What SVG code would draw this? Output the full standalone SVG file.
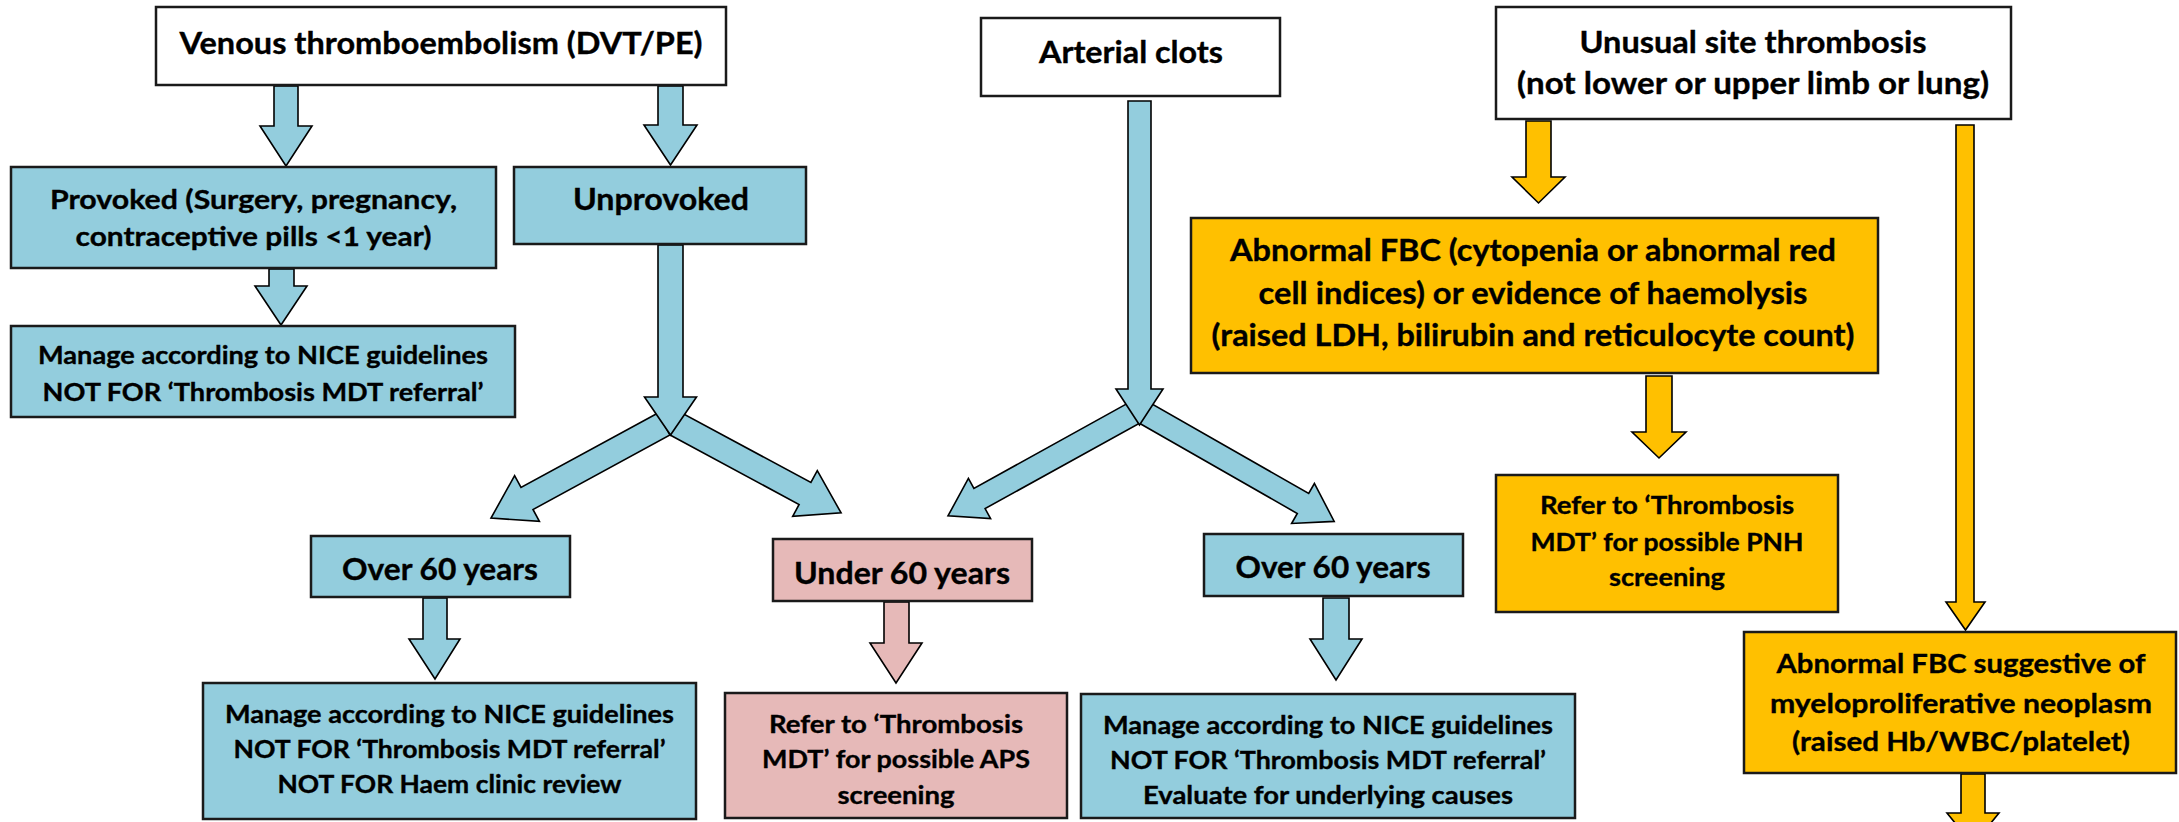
<svg xmlns="http://www.w3.org/2000/svg" width="2179" height="822" viewBox="0 0 2179 822">
<style>
text{font-family:Lato,"Liberation Sans",sans-serif;font-weight:bold;fill:#000;stroke:#000;stroke-width:0.35;text-anchor:middle}
.t1{font-size:30px}
.t2{font-size:27.5px}
.t3{font-size:24px}
.bw{fill:#fff;stroke:#1a1a1a;stroke-width:2.5}
.bb{fill:#93CDDD;stroke:#1a1a1a;stroke-width:2.5}
.bo{fill:#FFC000;stroke:#1a1a1a;stroke-width:2.5}
.bp{fill:#E6B9B8;stroke:#1a1a1a;stroke-width:2.5}
.ab{fill:#93CDDD;stroke:#000;stroke-width:1.6}
.ao{fill:#FFC000;stroke:#000;stroke-width:1.6}
.ap{fill:#E6B9B8;stroke:#000;stroke-width:1.6}
</style>
<rect width="2179" height="822" fill="#fff"/>
<g id="connectors">
<polygon class="ab" points="274,86 298,86 298,126 312,126 286,166 260,126 274,126"/>
<polygon class="ab" points="658,86 683,86 683,125 697,125 670.5,165 644,125 658,125"/>
<polygon class="ab" points="269,269 294,269 294,286 307,286 281,325 255,286 269,286"/>
<polygon class="ab" points="658,413 521,487.5 514.6,475.7 491,518.1 539.4,521.3 533,509.5 670,435"/>
<polygon class="ab" points="670.1,435 799.1,504.5 792.7,516.4 841.1,512.9 817.3,470.6 810.9,482.5 681.9,413"/>
<polygon class="ab" points="658,245 683,245 683,397 696.5,397 670.5,435 644.5,397 658,397"/>
<polygon class="ab" points="1128.4,402.9 973.9,488.4 968.4,478.4 948,515.9 990.6,518.6 985.1,508.6 1139.6,423.1"/>
<polygon class="ab" points="1139,423 1297.3,513.5 1291.6,523.5 1334.2,521.4 1314.4,483.5 1308.7,493.5 1150.4,403"/>
<polygon class="ab" points="1128,101 1151,101 1151,389 1163,389 1139.5,425 1116,389 1128,389"/>
<polygon class="ab" points="423,598 447,598 447,639 460,639 435,679 409,639 423,639"/>
<polygon class="ap" points="884,602 909,602 909,643 922,643 896,683 870,643 884,643"/>
<polygon class="ab" points="1323,598 1349,598 1349,639 1362,639 1336,680 1310,639 1323,639"/>
<polygon class="ao" points="1526,121 1551,121 1551,177 1565,177 1538.5,203 1512,177 1526,177"/>
<polygon class="ao" points="1646,376 1672,376 1672,432 1686,432 1659,458 1632,432 1646,432"/>
<polygon class="ao" points="1956,125 1974,125 1974,602 1985,602 1965.5,630 1946,602 1956,602"/>
<polygon class="ao" points="1961,774 1985,774 1985,813 1999,813 1973,845 1947,813 1961,813"/>
</g>
<g id="vte">
<rect class="bw" x="156" y="7" width="570" height="78"/>
<text class="t1" x="441" y="54" textLength="523" lengthAdjust="spacingAndGlyphs">Venous thromboembolism (DVT/PE)</text>
</g>
<g id="arterial">
<rect class="bw" x="981" y="18" width="299" height="78"/>
<text class="t1" x="1131" y="63" textLength="184" lengthAdjust="spacingAndGlyphs">Arterial clots</text>
</g>
<g id="unusual">
<rect class="bw" x="1496" y="7" width="515" height="112"/>
<text class="t1" x="1753" y="53" textLength="347" lengthAdjust="spacingAndGlyphs">Unusual site thrombosis</text>
<text class="t1" x="1753" y="94" textLength="472" lengthAdjust="spacingAndGlyphs">(not lower or upper limb or lung)</text>
</g>
<g id="provoked">
<rect class="bb" x="11" y="167" width="485" height="101"/>
<text class="t2" x="253.5" y="209" textLength="407" lengthAdjust="spacingAndGlyphs">Provoked (Surgery, pregnancy,</text>
<text class="t2" x="253.5" y="246" textLength="356" lengthAdjust="spacingAndGlyphs">contraceptive pills &lt;1 year)</text>
</g>
<g id="unprovoked">
<rect class="bb" x="514" y="167" width="292" height="77"/>
<text class="t1" x="661" y="210" textLength="176" lengthAdjust="spacingAndGlyphs">Unprovoked</text>
</g>
<g id="manage1">
<rect class="bb" x="11" y="326" width="504" height="91"/>
<text class="t3" x="263" y="364" textLength="450" lengthAdjust="spacingAndGlyphs">Manage according to NICE guidelines</text>
<text class="t3" x="263" y="401" textLength="441" lengthAdjust="spacingAndGlyphs">NOT FOR ‘Thrombosis MDT referral’</text>
</g>
<g id="fbc">
<rect class="bo" x="1191" y="218" width="687" height="155"/>
<text class="t1" x="1533" y="261" textLength="606" lengthAdjust="spacingAndGlyphs">Abnormal FBC (cytopenia or abnormal red</text>
<text class="t1" x="1533" y="304" textLength="549" lengthAdjust="spacingAndGlyphs">cell indices) or evidence of haemolysis</text>
<text class="t1" x="1533" y="346" textLength="643" lengthAdjust="spacingAndGlyphs">(raised LDH, bilirubin and reticulocyte count)</text>
</g>
<g id="pnh">
<rect class="bo" x="1496" y="475" width="342" height="137"/>
<text class="t3" x="1667" y="514" textLength="254" lengthAdjust="spacingAndGlyphs">Refer to ‘Thrombosis</text>
<text class="t3" x="1667" y="551" textLength="273" lengthAdjust="spacingAndGlyphs">MDT’ for possible PNH</text>
<text class="t3" x="1667" y="586" textLength="116" lengthAdjust="spacingAndGlyphs">screening</text>
</g>
<g id="over60left">
<rect class="bb" x="311" y="536" width="259" height="61"/>
<text class="t1" x="440" y="580" textLength="196" lengthAdjust="spacingAndGlyphs">Over 60 years</text>
</g>
<g id="under60">
<rect class="bp" x="773" y="539" width="259" height="62"/>
<text class="t1" x="902" y="584" textLength="216" lengthAdjust="spacingAndGlyphs">Under 60 years</text>
</g>
<g id="over60right">
<rect class="bb" x="1204" y="534" width="259" height="62"/>
<text class="t1" x="1333" y="578" textLength="195" lengthAdjust="spacingAndGlyphs">Over 60 years</text>
</g>
<g id="manage2">
<rect class="bb" x="203" y="683" width="493" height="136"/>
<text class="t3" x="449.5" y="723" textLength="449" lengthAdjust="spacingAndGlyphs">Manage according to NICE guidelines</text>
<text class="t3" x="449.5" y="758" textLength="432" lengthAdjust="spacingAndGlyphs">NOT FOR ‘Thrombosis MDT referral’</text>
<text class="t3" x="449.5" y="793" textLength="344" lengthAdjust="spacingAndGlyphs">NOT FOR Haem clinic review</text>
</g>
<g id="aps">
<rect class="bp" x="725" y="693" width="342" height="125"/>
<text class="t3" x="896" y="733" textLength="254" lengthAdjust="spacingAndGlyphs">Refer to ‘Thrombosis</text>
<text class="t3" x="896" y="768" textLength="268" lengthAdjust="spacingAndGlyphs">MDT’ for possible APS</text>
<text class="t3" x="896" y="804" textLength="117" lengthAdjust="spacingAndGlyphs">screening</text>
</g>
<g id="manage3">
<rect class="bb" x="1081" y="694" width="494" height="124"/>
<text class="t3" x="1328" y="734" textLength="450" lengthAdjust="spacingAndGlyphs">Manage according to NICE guidelines</text>
<text class="t3" x="1328" y="769" textLength="436" lengthAdjust="spacingAndGlyphs">NOT FOR ‘Thrombosis MDT referral’</text>
<text class="t3" x="1328" y="804" textLength="370" lengthAdjust="spacingAndGlyphs">Evaluate for underlying causes</text>
</g>
<g id="mpn">
<rect class="bo" x="1744" y="632" width="432" height="141"/>
<text class="t2" x="1961" y="673" textLength="369" lengthAdjust="spacingAndGlyphs">Abnormal FBC suggestive of</text>
<text class="t2" x="1961" y="713" textLength="382" lengthAdjust="spacingAndGlyphs">myeloproliferative neoplasm</text>
<text class="t2" x="1961" y="751" textLength="338" lengthAdjust="spacingAndGlyphs">(raised Hb/WBC/platelet)</text>
</g>
</svg>
